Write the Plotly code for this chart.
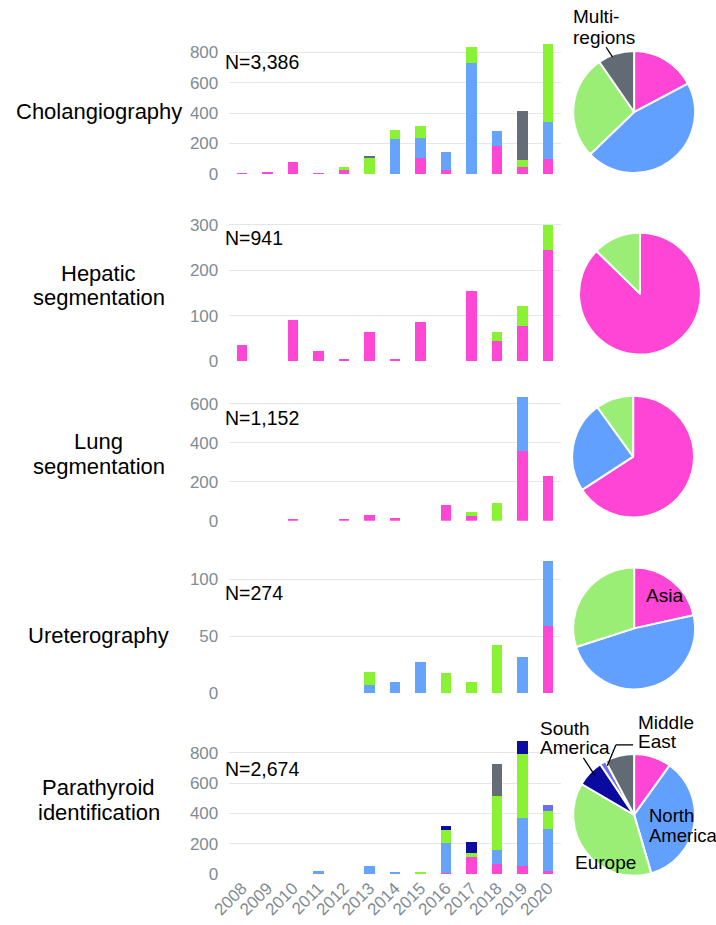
import plotly.graph_objects as go

W, H = 716, 925
years = [str(y) for y in range(2008, 2021)]

regions = ["Asia", "North America", "Europe", "South America", "Middle East", "Multi-regions"]
bar_colors = ["#FF47D5", "#66A3FA", "#89F233", "#0C0CA0", "#6E6EF2", "#646C75"]
pie_colors = ["#FF45D6", "#61A0FF", "#9AEE75", "#0A0AA0", "#6F6FF0", "#626A73"]

tasks = ["Cholangiography", "Hepatic segmentation", "Lung segmentation", "Ureterography", "Parathyroid identification"]
n_labels = ["N=3,386", "N=941", "N=1,152", "N=274", "N=2,674"]

# Cholangiography
chol_asia = [5, 12, 77, 6, 30, 0, 0, 107, 24, 0, 185, 43, 95]
chol_na = [0, 0, 0, 0, 0, 0, 228, 127, 120, 729, 95, 0, 243]
chol_eu = [0, 0, 0, 0, 13, 112, 58, 82, 0, 103, 0, 49, 516]
chol_sa = [0] * 13
chol_me = [0] * 13
chol_multi = [0, 0, 0, 0, 0, 6, 0, 0, 0, 0, 0, 321, 0]

# Hepatic segmentation
hep_asia = [35, 0, 90, 22, 2, 63, 1.5, 86, 0, 155, 45, 77, 245]
hep_na = [0] * 13
hep_eu = [0, 0, 0, 0, 0, 0, 0, 0, 0, 0, 20, 45, 54]
hep_sa = [0] * 13
hep_me = [0] * 13
hep_multi = [0] * 13

# Lung segmentation
lung_asia = [0, 0, 8, 0, 10, 29, 13, 0, 82, 24, 0, 358, 229]
lung_na = [0, 0, 0, 0, 0, 0, 0, 0, 0, 0, 0, 277, 0]
lung_eu = [0, 0, 0, 0, 0, 0, 0, 0, 0, 23, 91, 0, 0]
lung_sa = [0] * 13
lung_me = [0] * 13
lung_multi = [0] * 13

# Ureterography
ure_asia = [0, 0, 0, 0, 0, 0, 0, 0, 0, 0, 0, 0, 59]
ure_na = [0, 0, 0, 0, 0, 7, 10, 27, 0, 0, 0, 32, 57]
ure_eu = [0, 0, 0, 0, 0, 12, 0, 0, 18, 10, 42, 0, 0]
ure_sa = [0] * 13
ure_me = [0] * 13
ure_multi = [0] * 13

# Parathyroid identification
para_asia = [0, 0, 0, 0, 0, 0, 0, 0, 9, 115, 65, 56, 22]
para_na = [0, 0, 0, 22, 0, 50, 9, 0, 196, 0, 93, 312, 274]
para_eu = [0, 0, 0, 0, 0, 0, 0, 15, 85, 21, 357, 425, 119]
para_sa = [0, 0, 0, 0, 0, 0, 0, 0, 30, 76, 0, 87, 0]
para_me = [0, 0, 0, 0, 0, 0, 0, 0, 0, 0, 0, 0, 43]
para_multi = [0, 0, 0, 0, 0, 0, 0, 0, 0, 0, 209, 0, 0]

panel_data = [
    [chol_asia, chol_na, chol_eu, chol_sa, chol_me, chol_multi],
    [hep_asia, hep_na, hep_eu, hep_sa, hep_me, hep_multi],
    [lung_asia, lung_na, lung_eu, lung_sa, lung_me, lung_multi],
    [ure_asia, ure_na, ure_eu, ure_sa, ure_me, ure_multi],
    [para_asia, para_na, para_eu, para_sa, para_me, para_multi],
]
y_ranges = [[0, 870], [0, 305], [0, 650], [0, 118], [0, 890]]
y_dticks = [200, 100, 200, 50, 200]

# layout geometry (pixels)
plot_x = (216.7, 556.7)
plot_y = [(35.2, 170), (219.5, 360.7), (394.4, 523.3), (562, 699), (746, 883.3)]
pie_centers = [(632, 107), (638, 292), (631, 458), (632, 633), (632, 823)]
pie_r = 62.5


def px(x):
    return x / W


def py(y):
    return 1 - y / H


FONT = "Liberation Sans, Arial, sans-serif"
TICK_COLOR = "#7F8C93"
GRID = "#E2E7E9"

fig = go.Figure()
layout = dict(
    width=W, height=H, margin=dict(l=0, r=0, t=0, b=0), autosize=False,
    paper_bgcolor="white", plot_bgcolor="white", barmode="stack", bargap=0.59,
    showlegend=False, font=dict(family=FONT),
)

for i, series in enumerate(panel_data):
    k = i + 1
    xa = "x" if k == 1 else f"x{k}"
    ya = "y" if k == 1 else f"y{k}"
    for name, vals, col in zip(regions, series, bar_colors):
        if sum(vals) == 0:
            continue
        fig.add_trace(go.Bar(x=years, y=vals, name=name, marker=dict(color=col, line=dict(width=0)),
                             xaxis=xa, yaxis=ya, hoverinfo="x+y+name"))
    top, bot = plot_y[i]
    layout[f"xaxis{k}" if k > 1 else "xaxis"] = dict(
        domain=[px(plot_x[0]), px(plot_x[1])], anchor=ya, type="category",
        range=[-0.5, 12.5], showgrid=False, zeroline=False, showline=False, ticks="",
        showticklabels=(k == 5), tickangle=-45,
        tickfont=dict(size=17, color=TICK_COLOR, family=FONT),
    )
    layout[f"yaxis{k}" if k > 1 else "yaxis"] = dict(
        domain=[py(bot), py(top)], anchor=xa, range=y_ranges[i], tick0=0, dtick=y_dticks[i],
        showgrid=True, gridcolor=GRID, gridwidth=1, zeroline=False, showline=False, ticks="",
        ticklabelstandoff=10, tickfont=dict(size=17, color=TICK_COLOR, family=FONT),
    )
    # pie of regional totals
    totals = [sum(v) for v in series]
    labs = [r for r, t in zip(regions, totals) if t > 0]
    vals = [t for t in totals if t > 0]
    cols = [c for c, t in zip(pie_colors, totals) if t > 0]
    cx, cy = pie_centers[i]
    fig.add_trace(go.Pie(labels=labs, values=vals, sort=False, direction="clockwise", rotation=0,
                         marker=dict(colors=cols, line=dict(color="white", width=2)),
                         textinfo="none", hoverinfo="label+value",
                         domain=dict(x=[px(cx - pie_r), px(cx + pie_r)], y=[py(cy + pie_r), py(cy - pie_r)])))

annotations = []


def ann(text, x, y, size, xanchor="left", color="black"):
    annotations.append(dict(text=text, x=px(x), y=py(y), xref="paper", yref="paper",
                            xanchor=xanchor, yanchor="middle", showarrow=False,
                            font=dict(size=size, color=color, family=FONT)))


# task labels
task_lines = [
    ("Cholangiography", 106), ("Hepatic", 271), ("segmentation", 296),
    ("Lung", 443), ("segmentation", 468), ("Ureterography", 640),
    ("Parathyroid", 795), ("identification", 821),
]
for t, y in task_lines:
    ann(t, 83, y, 22, xanchor="center")

n_y = [56, 235, 419, 597, 776]
for t, y in zip(n_labels, n_y):
    ann(t, 210.7, y, 19.5)

# pie labels
ann("Multi-", 567, 10, 19)
ann("regions", 567, 31, 19)
ann("Asia", 641.7, 600, 19)
ann("South", 533, 734.5, 19)
ann("America", 533, 754.5, 19)
ann("Middle", 634, 728.4, 19)
ann("East", 634, 748.4, 19)
ann("North", 645, 824, 18.5)
ann("America", 645, 844, 18.5)
ann("Europe", 569, 871.5, 19)

shapes = []


def seg(x0, y0, x1, y1):
    shapes.append(dict(type="line", xref="paper", yref="paper", x0=px(x0), y0=py(y0),
                       x1=px(x1), y1=py(y1), line=dict(color="black", width=1.3)))


seg(603.3, 41, 610, 51)
seg(580, 765, 591.7, 782.7)
seg(631, 751.7, 613.3, 751.7)
seg(613.3, 751.7, 604.5, 773)

layout["annotations"] = annotations
layout["shapes"] = shapes
fig.update_layout(**layout)
fig.write_html(
    "out.html",
    config={"displayModeBar": False},
    post_script="document.body.style.margin='0';document.body.style.padding='0';document.body.style.overflow='hidden';",
)
